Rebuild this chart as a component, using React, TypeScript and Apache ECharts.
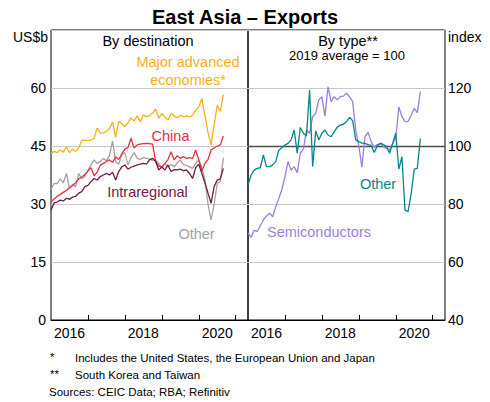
import React, { useEffect, useRef } from "react";
import * as echarts from "echarts";

// Monthly categories Jan 2016 – May 2021
const months: string[] = [];
for (let y = 2016; y <= 2021; y++) {
  for (let m = 1; m <= 12; m++) {
    months.push(`${y}-${String(m).padStart(2, "0")}`);
  }
}
const categories = months.slice(0, 65);

// Left panel: By destination (US$b)
const majorAdvanced = [43.1,43.6,43.3,44.0,43.4,44.8,43.3,44.2,43.6,44.5,46.5,46.5,46.4,46.6,47.0,49.6,48.3,48.4,48.8,49.5,51.2,47.3,51.3,50.8,50.0,51.0,52.3,51.5,52.8,51.3,53.0,52.6,52.8,53.5,54.5,52.2,53.4,52.5,51.7,53.4,52.8,52.3,53.0,52.5,52.8,52.5,53.0,54.3,55.0,57.3,53.0,48.5,45.3,50.5,55.5,54.0,58.2];
const china = [30.5,31.3,32.0,32.5,33.0,33.5,34.2,34.8,35.5,36.5,37.0,37.6,38.5,39.4,37.3,38.2,40.0,40.5,41.0,41.4,40.8,42.2,41.5,43.0,44.2,44.6,47.0,44.5,45.3,45.5,45.6,45.7,45.6,45.5,41.0,39.8,39.6,40.5,41.5,43.5,41.4,42.5,41.8,42.3,41.8,42.0,41.8,44.0,41.4,38.5,40.5,41.5,44.0,44.5,45.0,45.3,47.6];
const otherDest = [33.7,35.3,35.3,36.5,35.5,37.9,34.0,35.0,34.5,37.9,36.5,37.2,38.8,40.1,41.4,40.5,41.0,41.8,41.2,42.5,46.3,41.0,40.3,42.7,43.3,40.1,42.0,43.3,41.8,41.5,42.0,41.8,41.6,41.3,41.4,40.5,39.2,40.5,39.6,40.2,39.6,40.6,41.4,40.2,40.0,39.6,39.2,40.5,41.4,39.6,36.2,30.0,25.9,30.0,35.3,35.8,42.0];
const intraregional = [28.4,30.3,30.5,31.0,30.8,31.5,31.2,31.8,32.0,32.8,33.2,34.5,34.8,35.8,36.6,36.2,37.1,37.5,37.9,37.5,38.2,36.2,38.4,39.6,40.1,39.0,39.5,39.8,40.1,40.3,40.5,40.3,41.4,41.8,41.0,38.8,39.6,38.8,40.1,38.4,38.9,38.8,39.0,38.6,38.8,37.9,36.6,39.4,40.3,37.9,35.5,32.8,30.2,34.5,36.2,36.5,39.2];

// Right panel: By type (index, 2019 average = 100)
const otherType = [86.5,90.0,91.7,92.3,92.5,96.9,92.9,92.9,93.5,94.6,98.5,99.5,100.3,100.9,102.1,105.5,97.5,106.4,104.4,103.4,119.3,92.9,105.2,102.1,104.4,105.5,103.8,103.2,104.9,106.5,107.2,107.5,108.4,109.9,108.7,102.1,101.5,101.0,100.9,100.5,100.2,97.8,100.0,101.0,100.5,99.8,97.5,100.9,104.4,92.0,96.3,77.9,77.4,83.5,92.0,92.3,102.6];
const semiconductors = [70.0,68.5,71.0,70.5,72.5,74.5,75.9,76.8,75.6,79.0,81.9,85.0,89.4,94.6,91.7,92.9,90.8,97.5,99.0,105.5,104.4,110.1,111.3,115.9,117.0,110.3,120.4,115.3,117.0,115.9,117.0,117.2,118.2,117.0,115.3,105.5,100.0,92.7,103.2,104.8,101.5,99.5,100.5,100.8,99.8,99.2,98.6,100.9,102.6,113.5,110.1,108.4,108.5,110.5,113.0,111.5,118.8];

const leftTicks = { min: 0, max: 75, interval: 15 };
const rightTicks = { min: 40, max: 140, interval: 20 };

const FONT = "'Liberation Sans', Arial, Helvetica, sans-serif";
const C = {
  orange: "#FBAF17",
  red: "#EC2B45",
  grey: "#A3A3A3",
  maroon: "#6E1D45",
  teal: "#02878D",
  purple: "#9B7FDC",
};

function txt(text: string, x: number, y: number, size: number, fill: string, align = "center", weight = "normal") {
  return {
    type: "text",
    x,
    y,
    silent: true,
    style: {
      text,
      fill,
      font: `${weight} ${size}px ${FONT}`,
      textAlign: align,
      textVerticalAlign: "middle",
      verticalAlign: "middle",
    },
  };
}

export default function App() {
  const ref = useRef<HTMLDivElement>(null);
  useEffect(() => {
    if (!ref.current) return;
    const chart = echarts.init(ref.current, undefined, { renderer: "svg" });

    const xAxisBase = (gridIndex: number) => ({
      type: "category",
      gridIndex,
      data: categories,
      boundaryGap: false,
      axisLine: { show: true, lineStyle: { color: "#000", width: 1 } },
      axisTick: {
        show: true,
        inside: true,
        length: 5,
        interval: (idx: number) => idx % 12 === 0 && idx > 0 && idx < 64,
        lineStyle: { color: "#000", width: 1 },
      },
      axisLabel: {
        show: true,
        interval: (idx: number) => idx % 24 === 6,
        formatter: (v: string) => v.slice(0, 4),
        color: "#000",
        fontSize: 14,
        fontFamily: FONT,
        margin: 6,
      },
      splitLine: { show: false },
    });

    const yAxisBase = (gridIndex: number, t: { min: number; max: number; interval: number }, position: string, margin: number) => ({
      type: "value",
      gridIndex,
      position,
      min: t.min,
      max: t.max,
      interval: t.interval,
      axisLine: { show: false },
      axisTick: { show: false },
      axisLabel: {
        color: "#000",
        fontSize: 14,
        fontFamily: FONT,
        margin,
        formatter: (v: number) => (v === t.max ? "" : String(v)),
      },
      splitLine: { show: true, lineStyle: { color: "#C8C8C8", width: 1 } },
    });

    const line = (name: string, data: number[], color: string, xi: number, yi: number, extra: any = {}) => ({
      name,
      type: "line",
      xAxisIndex: xi,
      yAxisIndex: yi,
      data,
      symbol: "none",
      lineStyle: { color, width: 1.3 },
      itemStyle: { color },
      z: 3,
      ...extra,
    });

    chart.setOption({
      animation: false,
      backgroundColor: "#fff",
      grid: [
        { left: 51, top: 30, width: 197, bottom: 82, show: true, borderColor: "#000", borderWidth: 1, backgroundColor: "transparent" },
        { left: 248, top: 30, width: 197, bottom: 82, show: true, borderColor: "#000", borderWidth: 1, backgroundColor: "transparent" },
      ],
      xAxis: [xAxisBase(0), xAxisBase(1)],
      yAxis: [yAxisBase(0, leftTicks, "left", 5), yAxisBase(1, rightTicks, "right", 3)],
      series: [
        line("Major advanced economies", majorAdvanced, C.orange, 0, 0),
        line("Other", otherDest, C.grey, 0, 0),
        line("China", china, C.red, 0, 0),
        line("Intraregional", intraregional, C.maroon, 0, 0),
        line("Semiconductors", semiconductors, C.purple, 1, 1),
        line("Other (type)", otherType, C.teal, 1, 1, {
          markLine: {
            silent: true,
            symbol: "none",
            label: { show: false },
            lineStyle: { color: "#4D4D4D", width: 1.3, type: "solid" },
            data: [{ yAxis: 100 }],
            z: 2,
          },
        }),
      ],
      graphic: [
        txt("East Asia – Exports", 245, 17, 20, "#000", "center", "bold"),
        txt("US$b", 13, 37, 14, "#000", "left"),
        txt("index", 448, 37, 14, "#000", "left"),
        txt("By destination", 148, 41, 14.5, "#000"),
        txt("By type**", 348, 41, 14.5, "#000"),
        txt("2019 average = 100", 347, 55, 13, "#000"),
        txt("Major advanced", 188, 62, 14.5, C.orange),
        txt("economies*", 188, 80, 14.5, C.orange),
        txt("China", 170.5, 136, 14.5, C.red),
        txt("Intraregional", 147.5, 192, 14.5, C.maroon),
        txt("Other", 196.5, 234, 14.5, C.grey),
        txt("Other", 378, 184, 14.5, C.teal),
        txt("Semiconductors", 319, 232, 14.5, C.purple),
        txt("*", 50, 357, 11.5, "#000", "left"),
        txt("Includes the United States, the European Union and Japan", 75, 358, 11.5, "#000", "left"),
        txt("**", 50, 374, 11.5, "#000", "left"),
        txt("South Korea and Taiwan", 75, 375, 11.5, "#000", "left"),
        txt("Sources: CEIC Data; RBA; Refinitiv", 49, 392, 11.5, "#000", "left"),
      ],
    });

    return () => chart.dispose();
  }, []);

  return (
    <div
      ref={ref}
      style={{ position: "absolute", left: 0, top: 0, width: 490, height: 402 }}
    />
  );
}
